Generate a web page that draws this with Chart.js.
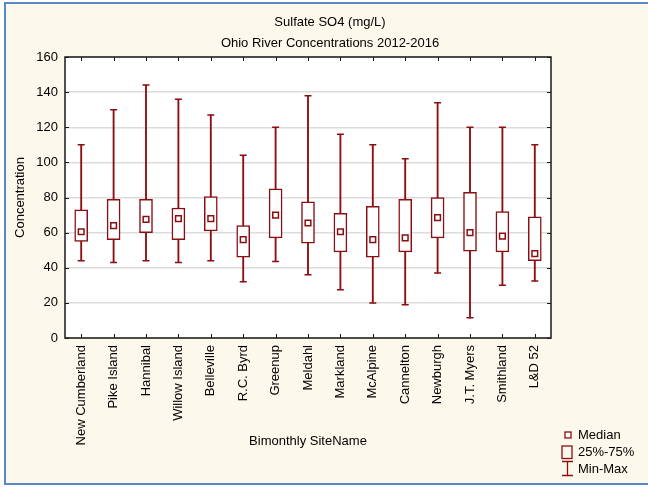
<!DOCTYPE html>
<html>
<head>
<meta charset="utf-8">
<script src="https://cdn.jsdelivr.net/npm/chart.js@4/dist/chart.umd.min.js"></script>
<style>
html, body { margin: 0; padding: 0; background: #fff; }
</style>
</head>
<body>
<canvas id="chart" width="648" height="487"></canvas>
<script>
// Sulfate box plot data (mg/L)
let sites = ['New Cumberland', 'Pike Island', 'Hannibal', 'Willow Island', 'Belleville',
    'R.C. Byrd', 'Greenup', 'Meldahl', 'Markland', 'McAlpine', 'Cannelton', 'Newburgh',
    'J.T. Myers', 'Smithland', 'L&D 52'];
let min_vals =    [44, 43, 44, 43, 44, 32, 43.5, 36, 27.5, 20, 19, 37, 11.5, 30, 32.5];
let q1_vals =     [55, 56, 60, 56, 61, 46, 57, 54, 49, 46, 49, 57, 49.5, 49, 44];
let median_vals = [60.5, 64, 67.5, 68, 68, 56, 70, 65.5, 60.5, 56, 57, 68.5, 60, 58, 48];
let q3_vals =     [73, 79, 79, 74, 80.5, 64, 85, 77.5, 71, 75, 79, 80, 83, 72, 69];
let max_vals =    [110, 130, 144, 136, 127, 104, 120, 138, 116, 110, 102, 134, 120, 120, 110];
let y_ticks = { min: 0, max: 160, step: 20 };

let dark_red = '#8b0e12';
let cream = '#fdf8ec';

Chart.defaults.font.family = "'Liberation Sans', Arial, sans-serif";
Chart.defaults.font.size = 13;
Chart.defaults.color = '#000';

// background, plot frame with inward ticks, and the little legend
let frame_plugin = {
    id: 'frame',
    beforeDraw(chart) {
        let ctx = chart.ctx;
        let a = chart.chartArea;
        ctx.save();
        ctx.fillStyle = '#fff';
        ctx.fillRect(0, 0, chart.width, chart.height);
        ctx.fillStyle = cream;
        ctx.fillRect(5, 3, chart.width, 481);
        ctx.strokeStyle = '#5b87c4';
        ctx.lineWidth = 2;
        ctx.strokeRect(5, 3, chart.width + 20, 481);
        ctx.fillStyle = '#fff';
        ctx.fillRect(a.left, a.top, a.right - a.left, a.bottom - a.top);
        ctx.restore();
    },
    afterDatasetsDraw(chart) {
        let ctx = chart.ctx;
        let a = chart.chartArea;
        let xs = chart.scales.x;
        let ys = chart.scales.y;
        ctx.save();
        ctx.strokeStyle = '#1a1a1a';
        ctx.lineWidth = 1;
        ctx.beginPath();
        xs.ticks.forEach((t, i) => {
            let px = Math.round(xs.getPixelForTick(i)) + 0.5;
            ctx.moveTo(px, a.bottom); ctx.lineTo(px, a.bottom - 4);
            ctx.moveTo(px, a.top); ctx.lineTo(px, a.top + 4);
        });
        ys.ticks.forEach((t, i) => {
            let py = Math.round(ys.getPixelForTick(i)) + 0.5;
            ctx.moveTo(a.left, py); ctx.lineTo(a.left + 4, py);
            ctx.moveTo(a.right, py); ctx.lineTo(a.right - 4, py);
        });
        ctx.stroke();
        ctx.lineWidth = 1.5;
        ctx.strokeRect(a.left, a.top, a.right - a.left, a.bottom - a.top);
        ctx.restore();
    },
    afterDraw(chart) {
        let ctx = chart.ctx;
        let lx = chart.chartArea.right + 11;
        ctx.save();
        ctx.strokeStyle = dark_red;
        ctx.lineWidth = 1.3;
        // median marker
        ctx.fillStyle = '#fff';
        ctx.fillRect(lx + 3, 432, 6, 6);
        ctx.strokeRect(lx + 3, 432, 6, 6);
        // box
        ctx.strokeRect(lx, 446, 10, 12.5);
        // whisker
        ctx.beginPath();
        ctx.moveTo(lx + 5.5, 461); ctx.lineTo(lx + 5.5, 476);
        ctx.moveTo(lx, 461.5); ctx.lineTo(lx + 11, 461.5);
        ctx.moveTo(lx, 475.5); ctx.lineTo(lx + 11, 475.5);
        ctx.stroke();
        ctx.fillStyle = '#000';
        ctx.font = "13px 'Liberation Sans', Arial, sans-serif";
        ctx.textBaseline = 'middle';
        ctx.fillText('Median', lx + 16, 435);
        ctx.fillText('25%-75%', lx + 16, 452.5);
        ctx.fillText('Min-Max', lx + 16, 469);
        ctx.restore();
    }
};

let ctx = document.getElementById('chart').getContext('2d');
let chart = new Chart(ctx, {
    type: 'bar',
    data: {
        labels: sites,
        datasets: [{
            label: 'Min-Max',
            data: sites.map((_, i) => [min_vals[i], max_vals[i]]),
            backgroundColor: dark_red,
            barThickness: 1.2,
            grouped: false,
            order: 5,
        }, {
            label: '25%-75%',
            data: sites.map((_, i) => [q1_vals[i], q3_vals[i]]),
            backgroundColor: '#fff',
            borderColor: dark_red,
            borderWidth: 1.5,
            borderSkipped: false,
            barThickness: 13,
            grouped: false,
            order: 4,
        }, {
            type: 'line',
            label: 'Max',
            data: max_vals,
            showLine: false,
            pointStyle: 'line',
            pointRadius: 3.5,
            pointBorderColor: dark_red,
            pointBorderWidth: 1.5,
            order: 2,
        }, {
            type: 'line',
            label: 'Min',
            data: min_vals,
            showLine: false,
            pointStyle: 'line',
            pointRadius: 3.5,
            pointBorderColor: dark_red,
            pointBorderWidth: 1.5,
            order: 2,
        }, {
            type: 'line',
            label: 'Median',
            data: median_vals,
            showLine: false,
            pointStyle: 'rect',
            pointRadius: 4,
            pointBackgroundColor: '#fff',
            pointBorderColor: dark_red,
            pointBorderWidth: 1.5,
            order: 1,
        }],
    },
    options: {
        responsive: false,
        animation: false,
        events: [],
        layout: { padding: { left: 12, right: 0, top: 0, bottom: 0 } },
        plugins: {
            legend: { display: false },
            tooltip: { enabled: false },
            title: {
                display: true,
                text: ['Sulfate SO4 (mg/L)', 'Ohio River Concentrations 2012-2016'],
                font: { size: 13, weight: 'normal', lineHeight: 21 / 13 },
                color: '#000',
                padding: { top: 11.5, bottom: 3.5 },
            },
        },
        scales: {
            x: {
                type: 'category',
                offset: true,
                grid: { display: false, drawTicks: false },
                border: { display: false },
                ticks: { autoSkip: false, minRotation: 90, maxRotation: 90, padding: 7, color: '#000' },
                title: { display: true, text: 'Bimonthly SiteName', color: '#000', padding: { top: 0, bottom: 38 } },
                afterFit: s => { s.height = 149; },
            },
            y: {
                min: y_ticks.min,
                max: y_ticks.max,
                ticks: { stepSize: y_ticks.step, padding: 7, color: '#000' },
                grid: { color: '#dcdcdc', lineWidth: 1.5, drawTicks: false },
                border: { display: false },
                title: { display: true, text: 'Concentration', color: '#000', padding: { top: 1, bottom: 0 } },
                afterFit: s => { s.width = 53; },
            },
            y2: {
                position: 'right',
                grid: { display: false, drawTicks: false },
                border: { display: false },
                ticks: { display: false },
                afterFit: s => { s.width = 97; },
            },
        },
    },
    plugins: [frame_plugin],
});
</script>
</body>
</html>
